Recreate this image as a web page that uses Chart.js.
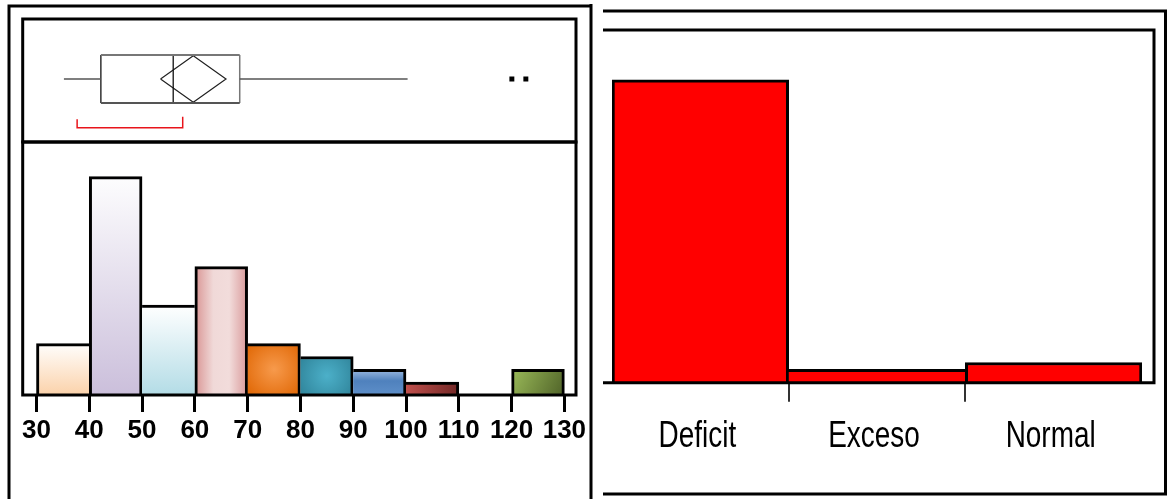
<!DOCTYPE html>
<html><head><meta charset="utf-8">
<script src="https://cdn.jsdelivr.net/npm/chart.js@4"></script>
<style>
html,body{margin:0;padding:0;background:#fff;}
body{width:1167px;height:499px;position:relative;overflow:hidden;}
.c{position:absolute;}
</style></head><body>
<div class="c" style="left:0;top:0;width:590px;height:499px;"><canvas id="hist"></canvas></div>
<div class="c" style="left:0;top:0;width:590px;height:160px;"><canvas id="box"></canvas></div>
<div class="c" style="left:585px;top:0;width:582px;height:499px;"><canvas id="bar"></canvas></div>
<script>
// ---------- data ----------
const binStarts = [30, 40, 50, 60, 70, 80, 90, 100, 110, 120];
const binCounts = [4, 17, 7, 10, 4, 3, 2, 1, 0, 2];
const binWidth = 10;
const histTicks = [30, 40, 50, 60, 70, 80, 90, 100, 110, 120, 130];
const histRange = [27.39, 132.2];
const histYMax = 19.7;

// box plot: lower whisker, Q1, median, Q3, upper whisker
const boxFive = [35.2, 42.2, 55.9, 68.5, 100.3];
// mean confidence diamond: lower, mean, upper
const meanDiamond = [53.5, 59.7, 65.9];
const outliers = [120.05, 122.7];
const shortestHalf = [37.7, 57.7];

const categories = ['Deficit', 'Exceso', 'Normal'];
const categoryCounts = [45, 2, 3];
const catYMax = 52.4;

// ---------- helpers ----------
function sideBorders(counts) {
  return function (ctx) {
    const i = ctx.dataIndex;
    const c = counts[i];
    const prev = i > 0 ? counts[i - 1] : 0;
    const next = i < counts.length - 1 ? counts[i + 1] : 0;
    if (!c) return 0;
    return { top: 3, bottom: 0, left: c > prev ? 3 : 0, right: c >= next ? 3 : 0 };
  };
}

const binPalette = [
  { kind: 'v', stops: [[0, '#fffefd'], [1, '#fbd2aa']] },
  { kind: 'v', stops: [[0, '#fdfdfe'], [1, '#cbbfdb']] },
  { kind: 'v', stops: [[0, '#ffffff'], [1, '#b3dce6']] },
  { kind: 'h', stops: [[0, '#d99594'], [0.35, '#f0d9d8'], [0.65, '#f2dcdb'], [1, '#d9999a']] },
  { kind: 'r', stops: [[0, '#f79a4c'], [1, '#e26b0a']] },
  { kind: 'r', stops: [[0, '#4cb0c9'], [1, '#2f8399']] },
  { kind: 'v', stops: [[0, '#9dbbe2'], [0.45, '#4f81bd'], [1, '#5e8fc9']] },
  { kind: 'h', stops: [[0, '#c0504d'], [1, '#722826']] },
  { kind: 'v', stops: [[0, '#ffffff'], [1, '#ffffff']] },
  { kind: 'd', stops: [[0, '#9bbb59'], [1, '#4f6228']] }
];

function binFill(ctx) {
  const chart = ctx.chart;
  const i = ctx.dataIndex;
  const xs = chart.scales.x, ys = chart.scales.y;
  const p = binPalette[i] || binPalette[0];
  if (!xs || !ys || !chart.chartArea || i === undefined) return p.stops[p.stops.length - 1][1];
  const x0 = xs.getPixelForValue(binStarts[i]);
  const x1 = xs.getPixelForValue(binStarts[i] + binWidth);
  const y0 = ys.getPixelForValue(binCounts[i]);
  const y1 = ys.getPixelForValue(0);
  const c = chart.ctx;
  let g;
  if (p.kind === 'v') g = c.createLinearGradient(0, y0, 0, y1);
  else if (p.kind === 'h') g = c.createLinearGradient(x0, 0, x1, 0);
  else if (p.kind === 'd') g = c.createLinearGradient(x0, y0, x1, y1);
  else {
    const cx = (x0 + x1) / 2, cy = (y0 + y1) / 2;
    g = c.createRadialGradient(cx, cy, 0, cx, cy, Math.max(x1 - x0, y1 - y0) * 0.62);
  }
  p.stops.forEach(s => g.addColorStop(s[0], s[1]));
  return g;
}

// ---------- histogram ----------
const histFrame = {
  id: 'histFrame',
  afterDraw(chart) {
    const c = chart.ctx, a = chart.chartArea;
    c.save();
    c.strokeStyle = '#000';
    c.lineWidth = 3;
    c.strokeRect(a.left, a.top, a.right - a.left, a.bottom - a.top);
    c.beginPath();
    c.moveTo(9, chart.height);
    c.lineTo(9, 6);
    c.lineTo(592, 6);
    c.stroke();
    c.restore();
  }
};

new Chart(document.getElementById('hist'), {
  type: 'bar',
  data: {
    datasets: [{
      data: binStarts.map((s, i) => ({ x: s + binWidth / 2, y: binCounts[i] })),
      backgroundColor: binFill,
      borderColor: '#000',
      borderWidth: sideBorders(binCounts),
      borderSkipped: 'start',
      barPercentage: 1,
      categoryPercentage: 1
    }]
  },
  options: {
    animation: false,
    responsive: true,
    maintainAspectRatio: false,
    layout: { padding: { left: 22.7, right: 14, top: 142, bottom: 0 } },
    scales: {
      x: {
        type: 'linear',
        offset: false,
        min: histRange[0],
        max: histRange[1],
        afterBuildTicks: s => { s.ticks = histTicks.map(v => ({ value: v })); },
        afterFit: s => { s.height = 104; },
        border: { display: false },
        grid: { offset: false, drawOnChartArea: false, drawTicks: true, tickLength: 17, color: '#000', lineWidth: 3 },
        ticks: {
          autoSkip: false,
          maxRotation: 0,
          padding: 3,
          color: '#000',
          font: { family: "'Liberation Sans', Arial, sans-serif", size: 26, weight: 'bold' }
        }
      },
      y: { display: false, min: 0, max: histYMax }
    },
    plugins: { legend: { display: false }, tooltip: { enabled: false } }
  },
  plugins: [histFrame]
});

// ---------- box plot ----------
const yMid = 0.512, yTop = 0.707, yBot = 0.317, dTop = 0.702, dBot = 0.323;
const yBr = 0.116, yBrL = 0.185, yBrR = 0.206;

function lineDs(points, color, width) {
  return { type: 'scatter', data: points, showLine: true, borderColor: color, borderWidth: width, pointRadius: 0, fill: false };
}

const boxFrame = {
  id: 'boxFrame',
  afterDraw(chart) {
    const c = chart.ctx, a = chart.chartArea;
    c.save();
    c.strokeStyle = '#000';
    c.lineWidth = 3;
    c.strokeRect(a.left, a.top, a.right - a.left, a.bottom - a.top);
    c.restore();
  }
};

new Chart(document.getElementById('box'), {
  type: 'scatter',
  data: {
    datasets: [
      lineDs([{ x: boxFive[0], y: yMid }, { x: boxFive[1], y: yMid }], '#555', 1.5),
      lineDs([{ x: boxFive[3], y: yMid }, { x: boxFive[4], y: yMid }], '#555', 1.5),
      lineDs([{ x: boxFive[1], y: yTop }, { x: boxFive[3], y: yTop }], '#777', 2),
      lineDs([{ x: boxFive[1], y: yBot }, { x: boxFive[3], y: yBot }], '#555', 2),
      lineDs([{ x: boxFive[1], y: yBot }, { x: boxFive[1], y: yTop }], '#111', 1.3),
      lineDs([{ x: boxFive[3], y: yBot }, { x: boxFive[3], y: yTop }], '#777', 1.5),
      lineDs([{ x: boxFive[2], y: yBot }, { x: boxFive[2], y: yTop }], '#111', 1.3),
      lineDs([
        { x: meanDiamond[0], y: yMid }, { x: meanDiamond[1], y: dTop },
        { x: meanDiamond[2], y: yMid }, { x: meanDiamond[1], y: dBot },
        { x: meanDiamond[0], y: yMid }
      ], '#222', 1.2),
      lineDs([
        { x: shortestHalf[0], y: yBrL }, { x: shortestHalf[0], y: yBr },
        { x: shortestHalf[1], y: yBr }, { x: shortestHalf[1], y: yBrR }
      ], '#e8141b', 1.5),
      {
        type: 'scatter',
        data: outliers.map(v => ({ x: v, y: yMid })),
        pointStyle: 'rect',
        pointRadius: 3.5,
        backgroundColor: '#000',
        borderColor: '#000',
        borderWidth: 0,
        showLine: false
      }
    ]
  },
  options: {
    animation: false,
    responsive: true,
    maintainAspectRatio: false,
    layout: { padding: { left: 22.7, right: 14, top: 19, bottom: 18 } },
    scales: {
      x: { type: 'linear', min: histRange[0], max: histRange[1], display: false },
      y: { type: 'linear', min: 0, max: 1, display: false }
    },
    plugins: { legend: { display: false }, tooltip: { enabled: false } }
  },
  plugins: [boxFrame]
});

// ---------- category bar chart ----------
const barFrame = {
  id: 'barFrame',
  afterDraw(chart) {
    const c = chart.ctx, a = chart.chartArea, W = chart.width;
    const L = a.left - 9, R = a.right + 12;
    c.save();
    c.strokeStyle = '#000';
    c.lineWidth = 3;
    c.beginPath();
    // panel divider
    c.moveTo(6, 4); c.lineTo(6, chart.height);
    // outer frame
    c.moveTo(L, 11); c.lineTo(W - 1.5, 11); c.lineTo(W - 1.5, 494); c.lineTo(L, 494);
    // inner frame
    c.moveTo(L, a.top); c.lineTo(R, a.top); c.lineTo(R, a.bottom); c.lineTo(L, a.bottom);
    c.stroke();
    c.restore();
  }
};

// condensed category labels (the reference uses a narrow face)
const narrowLabels = {
  id: 'narrowLabels',
  afterDraw(chart) {
    const c = chart.ctx, xs = chart.scales.x, a = chart.chartArea;
    c.save();
    c.fillStyle = '#000';
    c.font = "37px 'Liberation Sans', Arial, sans-serif";
    c.textAlign = 'center';
    c.textBaseline = 'alphabetic';
    categories.forEach((t, i) => {
      c.save();
      c.translate(xs.getPixelForValue(i) - 3, a.bottom + 64.6);
      c.scale(0.755, 1);
      c.fillText(t, 0, 0);
      c.restore();
    });
    c.restore();
  }
};

new Chart(document.getElementById('bar'), {
  type: 'bar',
  data: {
    labels: categories,
    datasets: [{
      data: categoryCounts,
      backgroundColor: '#ff0000',
      borderColor: '#000',
      borderWidth: sideBorders(categoryCounts),
      borderSkipped: 'start',
      barPercentage: 1,
      categoryPercentage: 1
    }]
  },
  options: {
    animation: false,
    responsive: true,
    maintainAspectRatio: false,
    layout: { padding: { left: 27, right: 25, top: 30, bottom: 0 } },
    scales: {
      x: {
        offset: true,
        afterFit: s => { s.height = 116.3; },
        border: { display: false },
        grid: {
          offset: true,
          drawOnChartArea: false,
          drawTicks: true,
          tickLength: 19,
          lineWidth: 2,
          color: ctx => (ctx.type === 'tick' && ctx.index > 0) ? '#333' : 'rgba(0,0,0,0)'
        },
        ticks: { display: false }
      },
      y: { display: false, min: 0, max: catYMax }
    },
    plugins: { legend: { display: false }, tooltip: { enabled: false } }
  },
  plugins: [barFrame, narrowLabels]
});
</script>
</body></html>
